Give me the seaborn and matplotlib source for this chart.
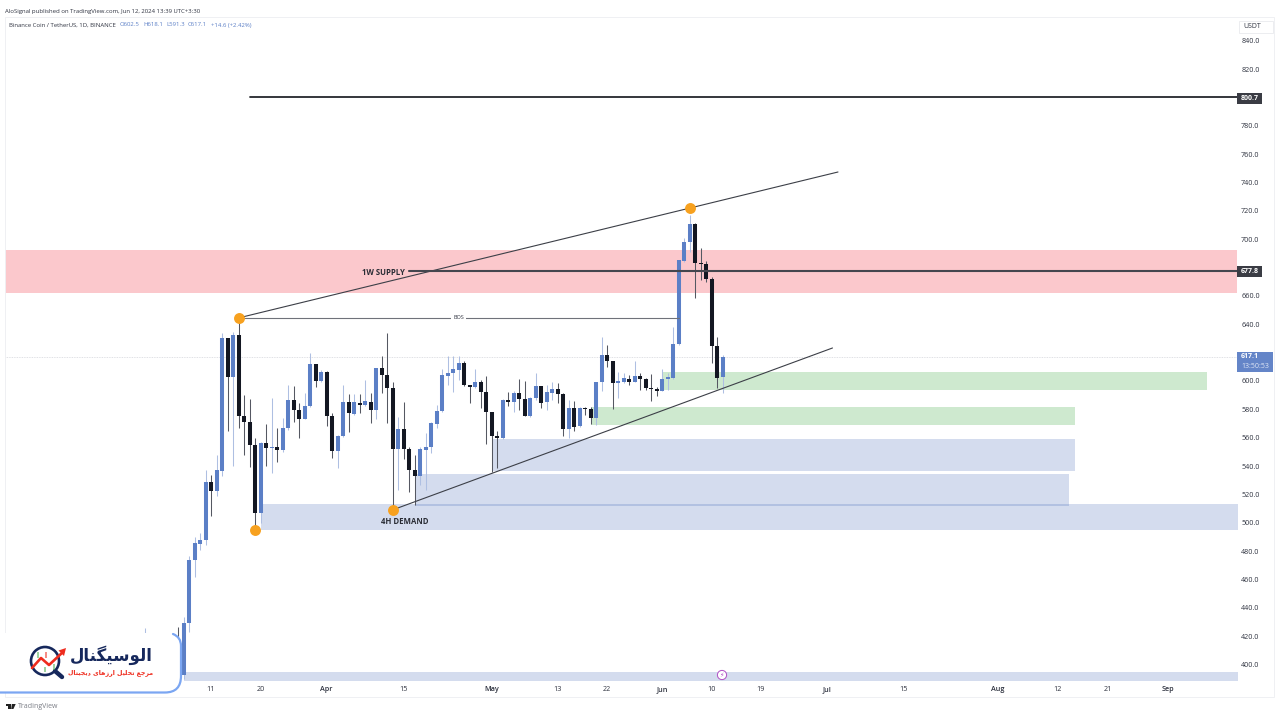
import matplotlib
matplotlib.use("Agg")
import matplotlib.pyplot as plt
import numpy as np
import pandas as pd
import seaborn as sns
from matplotlib.patches import PathPatch, Circle, Rectangle, Polygon
from matplotlib.path import Path

# Daily candles: one early candle, then every day from Mar 5 to Jun 12
first_day = ["2024-02-28"]
opens = [412, 414,
         392.5, 429, 474, 485.2, 487.8, 528.5, 522.4, 536.8, 630.2, 602.6, 632.5, 575.6, 570.9, 554.9,
         507.1, 556, 553, 553.2, 551.1, 567.1, 586.6, 579.6, 573.5, 582.6, 611.8, 600,
         606.2, 575.3, 550.9, 561.2, 585, 576.8, 584.8, 583.1, 585.5, 579.6, 609.5, 604, 594.8, 552, 566.1,
         552, 537, 533.2, 551, 553.7, 570, 579, 603.8, 605.4, 608, 612.5, 597.2, 595.5, 599.3, 592.2,
         577.9, 561, 559.8, 586.4, 585, 591.3, 587.5, 575.3, 588, 596.2, 585, 591.5, 594.4, 591,
         566.4, 580.7, 568.3, 580.7, 580, 573.7, 599, 618.1, 614.1, 598.6, 599.5, 601.4, 599.5, 603.3, 601.2, 594.8, 594.6,
         593.2, 601.2, 602.3, 625.9, 684.9, 698.3, 710.8, 683.5, 682.3, 672.2, 624.7, 602.5]
closes = [420, 405,
          429, 474, 485.4, 487.8, 528.5, 522.4, 537.2, 630.2, 602.6, 632.5, 575.6, 570.9, 554.9, 507.1,
          556, 553, 553.5, 551.1, 567.1, 586.6, 579.6, 573.5, 582.6, 611.8, 600, 606.2,
          575.3, 550.9, 561.2, 585, 577.2, 585, 583.4, 585.9, 579.6, 609.5, 604, 594.9, 552, 566.1, 551.8,
          537, 533.2, 551.8, 553.7, 570.4, 579, 604.2, 605.9, 608.2, 612.5, 597.2, 595.8, 599.5, 592.2, 577.9,
          561, 560, 586.6, 585.2, 591.3, 587.5, 575.5, 588, 596.5, 584.7, 592, 594.4, 591, 566.4,
          580.7, 567.8, 580.7, 580, 573.7, 599, 618.1, 614.1, 598.8, 599.7, 601.9, 599.5, 603.3, 601.2, 594.8, 594.3, 593.2,
          601.2, 602.6, 625.9, 685.4, 698.3, 710.8, 683.5, 682.3, 672.2, 624.7, 601.9, 617.1]
highs = [426, 426.6,
         433.7, 476.5, 489.7, 493, 537, 533.6, 547.8, 633.7, 630.2, 634.9, 644.3, 590, 587.3, 559.6,
         557, 570, 587.8, 566.6, 573.7, 597.2, 596.5, 584.8, 591.3, 619.6, 611.8, 607.8,
         607.3, 577.2, 562, 597.2, 590.9, 590.6, 590.9, 600.8, 591.3, 609.5, 617.7, 634, 599.5, 574.8, 585,
         553.7, 547.8, 553.7, 563.5, 571.3, 583, 608.2, 617.6, 617.6, 617.6, 614.4, 597.2, 608.5, 600.7, 603.5,
         577.9, 564.7, 587, 592.5, 593, 601.4, 600, 589, 605.4, 596.2, 597, 599.5, 598.4, 591.8,
         586.6, 585.9, 581.4, 581.4, 581.9, 599, 631.3, 625.4, 614.1, 606, 605.9, 604.2, 613.9, 605.4, 601.9, 605, 596,
         608.2, 605.9, 638.3, 685.4, 700.7, 717, 711.2, 694, 684.7, 673.6, 631, 618.1]
lows = [405, 400,
        390, 423, 462, 480.7, 484, 504.7, 519, 533, 565, 540, 566.9, 547.8, 539.6, 494.9,
        499.6, 540, 534.9, 542.7, 550, 565.5, 571.4, 559.8, 573, 582, 596, 599.6,
        568.3, 545.5, 538.9, 560.3, 563.8, 576, 577.7, 582.4, 570.6, 573, 591.3, 570.6, 509, 523, 544.7,
        522, 512.5, 526.6, 523, 549, 566.6, 578.4, 597.2, 592.5, 600.7, 596.5, 584.7, 594.8, 581, 555.3,
        536, 538.8, 559.3, 582.4, 578.4, 579.5, 575.3, 574.8, 586.6, 581.2, 579.5, 586.6, 584.2, 561.4,
        559.5, 564.7, 567.8, 576, 570, 569, 593.2, 610, 580, 587.8, 598.8, 597.2, 599.3, 593.6, 593.6, 586, 589.4,
        592.7, 594, 601.6, 625.5, 684, 691.2, 658.8, 671.3, 669.6, 612.9, 594.8, 591.3]

# Zones: start, end, top price, bottom price
zone_start = ["2024-06-01", "2024-05-19", "2024-05-01", "2024-04-17", "2024-03-20", "2024-03-06"]
zone_end = ["2024-09-08", "2024-08-15", "2024-08-15", "2024-08-14", "2024-10-01", "2024-10-01"]
zone_top = [606, 581.6, 559, 534.4, 513.2, 394.6]
zone_bottom = [593.6, 569, 536.5, 511.8, 494.9, 388]
zone_color = ["#4caf50", "#4caf50", "#3d62b3", "#3d62b3", "#3d62b3", "#3d62b3"]
supply_zone = [692.4, 662]

# Drawn lines and pivots
trend_dates = [["2024-03-16", "2024-07-03"], ["2024-04-13", "2024-07-02"]]
trend_prices = [[644.5, 747.5], [509, 623.3]]
bos_dates = ["2024-03-16", "2024-06-04"]
bos_price = 644.5
target_start = "2024-03-18"
target_price = 800.7
level_start = "2024-04-16"
level_price = 677.8
last_price = 617.1
pivot_dates = ["2024-03-16", "2024-03-19", "2024-04-13", "2024-06-06"]
pivot_prices = [644.5, 494.9, 509, 722]

price_ticks = list(range(400, 841, 20))
covered_ticks = [620, 680]  # hidden behind the price tags
date_ticks = ["2024-03-11", "2024-03-20", "2024-04-01", "2024-04-15", "2024-05-01", "2024-05-13", "2024-05-22",
              "2024-06-01", "2024-06-10", "2024-06-19", "2024-07-01", "2024-07-15", "2024-08-01", "2024-08-12",
              "2024-08-21", "2024-09-01"]
date_labels = ["11", "20", "Apr", "15", "May", "13", "22", "Jun", "10", "19", "Jul", "15", "Aug", "12", "21", "Sep"]

UP = "#5b7fc6"
DOWN = "#131722"
UP_WICK = "#aebfe2"
DOWN_WICK = "#555862"
TEXT = "#2f3340"

sns.set_theme(style="white")
plt.rcParams["font.family"] = ["Open Sans", "DejaVu Sans"]

dates = pd.to_datetime(first_day + list(pd.date_range("2024-03-05", periods=len(opens) - 1)))
candles = pd.DataFrame({"date": dates, "open": opens, "high": highs, "low": lows, "close": closes})
candles["id"] = np.arange(len(candles))
candles["up"] = candles["close"] >= candles["open"]

wicks = candles.melt(id_vars=["id", "date", "up"], value_vars=["low", "high"], value_name="price")
bodies = candles.melt(id_vars=["id", "date", "up"], value_vars=["open", "close"], value_name="price")

fig = plt.figure(figsize=(12.8, 7.2), dpi=100)
ax = fig.add_axes([5 / 1280, 38 / 720, 1232 / 1280, 665 / 720])

# Zones sit under the candles
ax.axhspan(supply_zone[1], supply_zone[0], color="#f23645", alpha=0.27, lw=0, zorder=1)
for start, end, top, bottom, color in zip(zone_start, zone_end, zone_top, zone_bottom, zone_color):
    ax.fill_between(pd.to_datetime([start, end]), [bottom, bottom], [top, top], color=color,
                    alpha=0.27 if color == "#4caf50" else 0.22, lw=0, zorder=1)

ax.axhline(last_price, color="#d5d7dc", lw=0.6, ls=(0, (1, 1)), zorder=1)

sns.lineplot(data=wicks, x="date", y="price", units="id", estimator=None, hue="up",
             palette={True: UP_WICK, False: DOWN_WICK}, linewidth=0.75, sort=False,
             solid_capstyle="butt", legend=False, ax=ax, zorder=2)
sns.lineplot(data=bodies, x="date", y="price", units="id", estimator=None, hue="up",
             palette={True: UP, False: DOWN}, linewidth=2.9, sort=False,
             solid_capstyle="butt", legend=False, ax=ax, zorder=3)

# Trend lines and levels
for d, p in zip(trend_dates, trend_prices):
    ax.plot(pd.to_datetime(d), p, color="#3c3f47", lw=0.8, zorder=4)
ax.plot(pd.to_datetime(bos_dates), [bos_price, bos_price], color="#6f727a", lw=0.8, zorder=4)
ax.plot(pd.to_datetime([target_start, "2024-10-01"]), [target_price, target_price], color="#24262c", lw=1.3, zorder=4)
ax.plot(pd.to_datetime([level_start, "2024-10-01"]), [level_price, level_price], color="#44464e", lw=1.5, zorder=4)

sns.scatterplot(x=pd.to_datetime(pivot_dates), y=pivot_prices, color="#f7a11f", s=62, linewidth=0, ax=ax, zorder=5)

ax.text(pd.Timestamp("2024-04-25"), bos_price, "BOS", fontsize=4, color=TEXT, ha="center",
        va="center", zorder=5, bbox=dict(fc="white", ec="none", pad=1.5))
ax.text(pd.Timestamp("2024-04-11 07:00"), 676.7, "1W SUPPLY", fontsize=5.6, fontweight="bold",
        color="#2a2d35", ha="center", va="center", zorder=5)
ax.text(pd.Timestamp("2024-04-15 07:00"), 501, "4H DEMAND", fontsize=5.6, fontweight="bold", color="#2a2d35",
        ha="center", va="center", zorder=5)

# Axes limits line up the days and prices with the picture
ax.set_xlim(pd.Timestamp("2024-03-11") + pd.Timedelta(days=(5 - 211) / 5.5),
            pd.Timestamp("2024-03-11") + pd.Timedelta(days=(1237 - 211) / 5.5))
ax.set_ylim(600 - (682 - 381) / 1.417, 600 - (17 - 381) / 1.417)

ax.yaxis.tick_right()
ax.set_yticks(price_ticks, ["" if p in covered_ticks else f"{p:.1f}" for p in price_ticks])
ax.set_xticks(pd.to_datetime(date_ticks), date_labels)
ax.tick_params(axis="both", length=0, labelsize=5.2, labelcolor=TEXT)
ax.tick_params(axis="y", pad=3)
ax.tick_params(axis="x", pad=3)
for label in ax.get_xticklabels():
    if label.get_text().isalpha():
        label.set_fontweight("semibold")
ax.set_xlabel("")
ax.set_ylabel("")
ax.grid(False)
for side in ax.spines:
    ax.spines[side].set_visible(False)

# Pixel overlay for the chrome around the chart
over = fig.add_axes([0, 0, 1, 1], zorder=10)
over.set_xlim(0, 1280)
over.set_ylim(720, 0)
over.axis("off")
over.patch.set_alpha(0)

over.add_patch(Rectangle((5, 17), 1269, 680, fc="none", ec="#eff0f3", lw=0.7))

# Price tags on the right
for price, top in [(target_price, 92.5), (level_price, 266)]:
    over.add_patch(Rectangle((1237, top), 25, 11, fc="#3a3c44", ec="none"))
    over.text(1249.5, top + 5.5, f"{price:.1f}", fontsize=5, color="white", ha="center", va="center", fontweight="bold")
over.add_patch(Rectangle((1237, 351.5), 35.5, 20, fc="#6485c8", ec="none"))
over.text(1241, 357, f"{last_price:.1f}", fontsize=5, color="white", ha="left", va="center", fontweight="bold")
over.text(1241, 366, "13:50:53", fontsize=5, color="#dfe6f5", ha="left", va="center")
over.add_patch(Rectangle((1238.5, 21), 34, 12, fc="white", ec="#e9eaee", lw=0.6))
over.text(1243, 27, "USDT", fontsize=5, color=TEXT, ha="left", va="center")

# Header lines
over.text(5, 11, "AloSignal published on TradingView.com, Jun 12, 2024 13:39 UTC+3:30", fontsize=4.35, color=TEXT,
          ha="left", va="center")
over.text(9, 25, "Binance Coin / TetherUS, 1D, BINANCE", fontsize=4.3, color=TEXT, ha="left", va="center")
for x, s in zip([120, 143, 166, 188, 211], ["O602.5", "H618.1", "L591.3", "C617.1", "+14.6 (+2.42%)"]):
    over.text(x, 25, s, fontsize=4.3, color=UP, ha="left", va="center")

# Alert marker on the axis
over.add_patch(Circle((722, 675), 4.6, fc="white", ec="#b04fc4", lw=0.7))
over.text(722, 675, "\u26a1", fontsize=4.5, color="#b04fc4", ha="center", va="center", family="DejaVu Sans")

# TradingView footer
over.add_patch(Polygon([[6, 704], [10.7, 704], [10.7, 709], [8.4, 709], [8.4, 705.9], [6, 705.9]], fc="#222", ec="none"))
over.add_patch(Polygon([[11.8, 704], [15.7, 704], [13.4, 709], [11.2, 709]], fc="#222", ec="none"))
over.text(17.5, 707, "TradingView", fontsize=5, color="#7b7e86", ha="left", va="center")

# Logo panel in the corner
panel = Path([(0, 633), (168, 633), (181, 633), (181, 646), (181, 676), (181, 692.5), (165, 692.5), (0, 692.5), (0, 633)],
             [Path.MOVETO, Path.LINETO, Path.CURVE3, Path.CURVE3, Path.LINETO, Path.CURVE3, Path.CURVE3, Path.LINETO, Path.CLOSEPOLY])
over.add_patch(PathPatch(panel, fc="white", ec="none"))
border = Path([(0, 692.5), (165, 692.5), (181, 692.5), (181, 676), (181, 646), (181, 637), (173, 634)],
              [Path.MOVETO, Path.LINETO, Path.CURVE3, Path.CURVE3, Path.LINETO, Path.CURVE3, Path.CURVE3])
over.add_patch(PathPatch(border, fc="none", ec="#7ba6f2", lw=1.6, capstyle="round"))

NAVY = "#16285c"
RED = "#ee2c1e"
over.add_patch(Circle((45, 661), 14, fc="white", ec=NAVY, lw=1.9))
over.plot([55, 62], [671, 677], color=NAVY, lw=3.2, solid_capstyle="round")
for x, top, bottom, color in [(38, 652, 658, "#4caf50"), (46, 652, 658, RED), (54, 664, 670, "#4caf50"), (45, 667, 672, "#4caf50")]:
    over.plot([x, x], [top, bottom], color=color, lw=1.1, alpha=0.7, solid_capstyle="butt")
over.plot([32, 41, 49, 63], [668, 658, 665, 652], color=RED, lw=1.9, solid_capstyle="round")
over.add_patch(Polygon([[66, 648], [58.5, 650.5], [64, 656]], fc=RED, ec="none"))

# Persian text: glyphs already joined, matplotlib lays them out left to right
logo_name = "\uFE8D\uFEDF\uFEEE\uFEB3\uFBFF\uFB95\uFEE8\uFE8E\uFEDD"
logo_tag = ("\uFEE3\uFEAE\uFE9F\uFECA \uFE97\uFEA4\uFEE0\uFBFF\uFEDE \uFE8D\uFEAD\uFEAF\uFEEB\uFE8E\uFBFC "
            "\uFEA9\uFBFE\uFEA0\uFBFF\uFE98\uFE8E\uFEDD")
over.text(111.5, 655.5, logo_name[::-1], family="DejaVu Sans", fontweight="bold", fontsize=12, color=NAVY,
          ha="center", va="center")
over.text(110.5, 672.5, logo_tag[::-1], family="DejaVu Sans", fontweight="bold", fontsize=4.5, color=RED,
          ha="center", va="center")

fig.savefig("out.png", dpi=100)
